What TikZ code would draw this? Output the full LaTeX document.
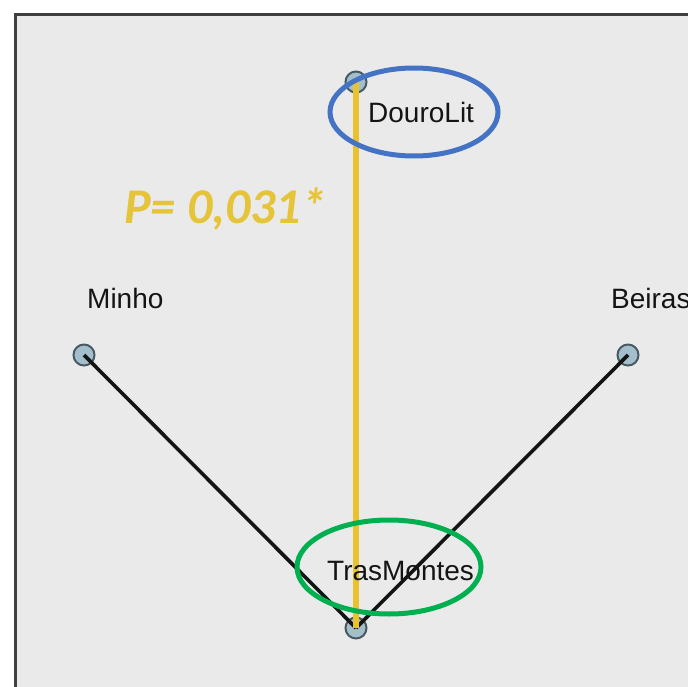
\documentclass[tikz,border=0pt]{standalone}
\usepackage{fontspec}
\setmainfont{Liberation Sans}
\newfontfamily\pfont{Carlito}
\definecolor{panel}{HTML}{EAEAEA}
\definecolor{frameC}{HTML}{404040}
\definecolor{nodefill}{HTML}{A3BECC}
\definecolor{nodeedge}{HTML}{4A5A62}
\definecolor{yel}{HTML}{E9C32E}
\definecolor{pyel}{HTML}{E6C43A}
\definecolor{blueE}{HTML}{4472C4}
\definecolor{greenE}{HTML}{00B050}
\tikzset{
  vnode/.style={circle, fill=nodefill, draw=nodeedge, line width=2pt, minimum size=21pt, inner sep=0pt},
  lbl/.style={anchor=base west, inner sep=0pt, font=\fontsize{28}{32}\selectfont, text=black!92},
  blackedge/.style={line width=3.6pt, black!92},
  yeledge/.style={line width=6pt, yel},
  hilite/.style={line width=5pt}
}
\begin{document}
\begin{tikzpicture}[x=1pt,y=-1pt]
\useasboundingbox (0,0) rectangle (688,687);
\fill[white] (0,0) rectangle (688,687);
\fill[panel] (15,15) rectangle (690,690);
\draw[frameC, line width=3pt] (15,690) -- (15,15) -- (690,15);
% vertices
\node[vnode] (D) at (356,82) {};
\node[vnode] (M) at (84,355) {};
\node[vnode] (B) at (628,355) {};
\node[vnode] (T) at (356,628) {};
% edges
\draw[blackedge] (M.center) -- (T.center);
\draw[blackedge] (B.center) -- (T.center);
\draw[yeledge] (D.center) -- (T.center);
% labels
\node[lbl] (lD) at (368,123) {DouroLit};
\node[lbl] (lM) at (87,308) {Minho};
\node[lbl] (lB) at (611,308) {Beiras};
\node[lbl] (lT) at (327,580) {TrasMontes};
\node[anchor=base west, inner sep=0pt, text=pyel, font=\pfont\bfseries\itshape\fontsize{50}{56}\selectfont] (P) at (124,223) {P= 0,031*};
% highlight ellipses
\draw[hilite, blueE] (414,112) ellipse [x radius=84pt, y radius=44pt];
\draw[hilite, greenE] (389,567) ellipse [x radius=92pt, y radius=47pt];
\end{tikzpicture}
\end{document}
